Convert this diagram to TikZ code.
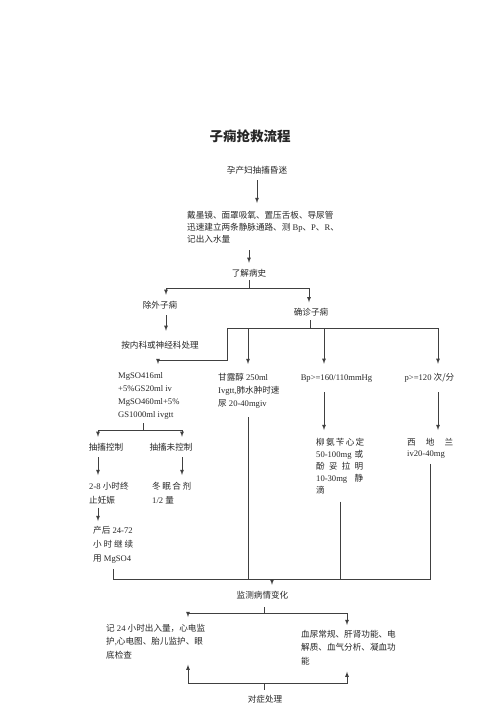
\documentclass[tikz,border=0pt]{standalone}
\usepackage{fontspec}
\setmainfont{Liberation Serif}
\newfontfamily\zh{Noto Sans CJK SC}
\newcommand{\z}[1]{{\zh #1}}

\begin{document}
\begin{tikzpicture}[x=1pt, y=1pt,
    base/.style={inner sep=0pt, text=black!85, font=\fontsize{8.6}{12.6}\selectfont},
    lbl/.style={base, text height=7.5pt, text depth=1.5pt},
    blk/.style={base, anchor=north west, align=left, font=\fontsize{8.6}{#1}\selectfont,
        execute at begin node={\rule{0pt}{7.5pt}}},
    blk/.default=12.6,
    ln/.style={draw=black!75, line width=0.8pt},
    arr/.style={ln, -latex}]

    \useasboundingbox (0,0) rectangle (500,-707);

    % title
    \node[lbl, font=\fontsize{13.5}{16}\selectfont\bfseries] (title) at (250,-138) {\z{子痫抢救流程}};

    % first steps
    \node[lbl] (onset) at (257,-170) {\z{孕产妇抽搐昏迷}};
    \node[blk=12.3] (care) at (187,-210.8) {\z{戴墨镜、面罩吸氧、置压舌板、导尿管}\\
        \z{迅速建立两条静脉通路、测} Bp\z{、}P\z{、}R\z{、}\\\z{记出入水量}};
    \node[lbl] (hist) at (249,-273) {\z{了解病史}};
    \draw[arr, shorten <=5.5pt, shorten >=7.8pt] (onset.south) -- ([xshift=70pt]care.north west);
    \draw[arr, shorten <=6.5pt, shorten >=5.5pt] ([xshift=62pt]care.south west) -- (hist.north);

    % history splits
    \coordinate (hsplit) at (249,-288);
    \node[lbl] (excl) at (160,-305) {\z{除外子痫}};
    \node[lbl] (conf) at (311,-312) {\z{确诊子痫}};
    \node[lbl] (internal) at (160,-345) {\z{按内科或神经科处理}};
    \draw[ln, shorten <=2.5pt] (hist.south) -- (hsplit);
    \draw[arr, shorten >=5.5pt] (hsplit) -| ([xshift=6pt]excl.north);
    \draw[arr, shorten >=5pt] (hsplit) -| ([xshift=-2pt]conf.north);
    \draw[arr, shorten <=5.5pt, shorten >=9.5pt] ([xshift=6pt]excl.south) -- ([xshift=6pt]internal.north);

    % treatments
    \coordinate (csplit) at (310,-328);
    \coordinate (mgturn) at (227,-360);
    \node[blk=12.8] (mg) at (118,-372.8) {MgSO416ml\\+5\%GS20ml iv\\MgSO460ml+5\%\\GS1000ml ivgtt};
    \node[blk=13] (manni) at (218,-372.8) {\z{甘露醇} 250ml\\Ivgtt,\z{肺水肿时速}\\\z{尿} 20-40mgiv};
    \node[lbl] (bp) at (336.5,-377) {Bp>=160/110mmHg};
    \node[lbl] (hr) at (429.5,-377) {p>=120 \z{次/分}};
    \draw[ln, shorten <=3.5pt] (conf.south -| csplit) -- (csplit);
    \draw[arr, shorten >=8.8pt] (csplit) -| (mgturn) -| ([xshift=40pt]mg.north west);
    \draw[arr, shorten >=8.8pt] (csplit) -| ([xshift=30pt]manni.north west);
    \draw[arr, shorten >=8.5pt] (csplit) -| ([xshift=-12.5pt]bp.north);
    \draw[arr, shorten >=8.5pt] (csplit) -| ([xshift=8.5pt]hr.north);

    % magnesium
    \coordinate (msplit) at (143,-430);
    \node[lbl] (ctrl) at (106,-447) {\z{抽搐控制}};
    \node[lbl] (unctrl) at (171,-447) {\z{抽搐未控制}};
    \draw[ln, shorten <=4pt] (mg.south -| msplit) -- (msplit);
    \draw[arr, shorten >=5.5pt] (msplit) -| ([xshift=-8pt]ctrl.north);
    \draw[arr, shorten >=5.5pt] (msplit) -| ([xshift=11pt]unctrl.north);
    \node[blk=14] (term) at (89,-481.8) {2-8 \z{小时终}\\\z{止妊娠}};
    \node[blk=14] (sedat) at (152,-481.8) {\makebox[39pt][s]{\z{冬 眠 合 剂}}\\1/2 \z{量}};
    \node[blk=14] (post) at (93,-525.8) {\z{产后} 24-72\\\makebox[40pt][s]{\z{小 时 继 续}}\\\z{用} MgSO4};
    \draw[arr, shorten <=5.5pt, shorten >=6.8pt] ([xshift=-8pt]ctrl.south) -- ([xshift=9pt]term.north west);
    \draw[arr, shorten <=5.5pt, shorten >=6.8pt] ([xshift=11pt]unctrl.south) -- ([xshift=30pt]sedat.north west);
    \draw[arr, shorten <=3.5pt, shorten >=4.8pt] ([xshift=9pt]term.south west) -- ([xshift=5pt]post.north west);

    % blood pressure and heart rate
    \node[blk=12] (labet) at (316,-437.8) {\makebox[47pt][s]{\z{柳 氨 苄 心 定}}\\
        \makebox[47pt][s]{50-100mg \z{或}}\\\makebox[47pt][s]{\z{酚 妥 拉 明}}\\
        \makebox[47pt][s]{10-30mg \z{静}}\\\z{滴}};
    \node[blk=11.6] (cedi) at (407,-437.8) {\makebox[46pt][s]{\z{西 地 兰}}\\iv20-40mg};
    \draw[arr, shorten <=10.5pt, shorten >=7.8pt] ([xshift=-12.5pt]bp.south) -- ([xshift=8pt]labet.north west);
    \draw[arr, shorten <=10.5pt, shorten >=7.8pt] ([xshift=8.5pt]hr.south) -- ([xshift=31pt]cedi.north west);

    % monitoring
    \coordinate (mjoin) at (272,-579);
    \node[lbl] (monitor) at (262.5,-595) {\z{监测病情变化}};
    \draw[ln, shorten <=5.5pt] ([xshift=20pt]post.south west) |- (mjoin);
    \draw[ln, shorten <=9pt] ([xshift=30pt]manni.south west) |- (mjoin);
    \draw[ln, shorten <=7.5pt] ([xshift=24pt]labet.south west) |- (mjoin);
    \draw[ln, shorten <=5pt] ([xshift=23pt]cedi.south west) |- (mjoin);
    \draw[arr, shorten >=5.5pt] (mjoin) -- (mjoin |- monitor.north);

    \coordinate (tsplit) at (264,-613);
    \node[blk=13.5] (rec) at (106,-623.8) {\z{记} 24 \z{小时出入量，心电监}\\
        \z{护},\z{心电图、胎儿监护、眼}\\\z{底检查}};
    \node[blk=13.5] (lab) at (301,-629.8) {\z{血尿常规、肝肾功能、电}\\
        \z{解质、血气分析、凝血功}\\\z{能}};
    \draw[ln, shorten <=7.5pt] (monitor.south -| tsplit) -- (tsplit);
    \draw[arr, shorten >=6.8pt] (tsplit) -| ([xshift=82pt]rec.north west);
    \draw[arr, shorten >=4.8pt] (tsplit) -| ([xshift=46pt]lab.north west);

    % symptomatic care
    \coordinate (bsplit) at (264,-683);
    \node[lbl] (sympt) at (265,-699) {\z{对症处理}};
    \draw[ln, shorten <=4.5pt] (sympt.north -| bsplit) -- (bsplit);
    \draw[arr, shorten >=5.5pt] (bsplit) -| ([xshift=82pt]rec.south west);
    \draw[arr, shorten >=6.5pt] (bsplit) -| ([xshift=46pt]lab.south west);

\end{tikzpicture}
\end{document}
